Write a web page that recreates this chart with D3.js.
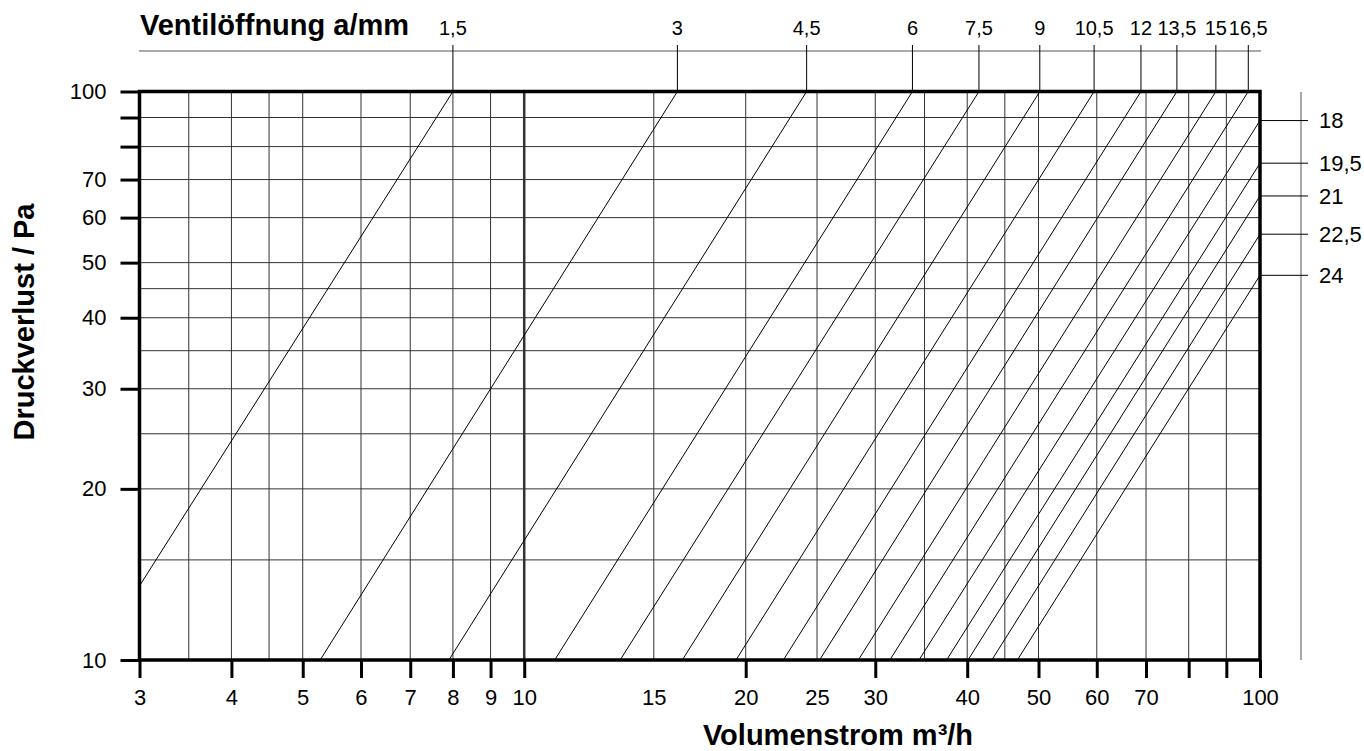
<!DOCTYPE html>
<html lang="de">
<head>
  <meta charset="UTF-8">
  <title>Druckverlust / Volumenstrom</title>
  <script src="https://d3js.org/d3.v7.min.js"></script>
  <style>
    body {
      margin: 0;
      padding: 0;
      background-color: #fff;
    }
    svg text {
      font-family: "Liberation Sans", Arial, sans-serif;
      fill: #000;
    }
  </style>
</head>
<body>
  <svg id="chart" width="1364" height="751"></svg>

  <script>
    // Gitter und Achsenbeschriftung
    const xGrid = [3.5, 4, 4.5, 5, 6, 7, 8, 9, 10, 15, 20, 25, 30, 35, 40, 45, 50, 60, 70, 80, 90];
    const yGrid = [15, 20, 25, 30, 35, 40, 45, 50, 60, 70, 80, 90];
    const xTickMarks = [3, 4, 5, 6, 7, 8, 9, 10, 20, 30, 40, 50, 60, 70, 80, 90, 100];
    const xTickLabels = [3, 4, 5, 6, 7, 8, 9, 10, 15, 20, 25, 30, 40, 50, 60, 70, 100];
    const yTickMarks = [10, 20, 30, 40, 50, 60, 70, 80, 90, 100];
    const yTickLabels = [10, 20, 30, 40, 50, 60, 70, 100];

    // Kennlinien je Ventilöffnung (Anfangs- und Endpunkt, m³/h und Pa)
    const openings = ["1,5", "3", "4,5", "6", "7,5", "9", "10,5", "12", "13,5", "15", "16,5", "18", "19,5", "21", "22,5", "24"];
    const flowStart = [3, 5.28, 7.9, 11.0, 13.5, 16.4, 19.4, 22.5, 25.2, 28.45, 31.4, 34.4, 37.5, 40.1, 43.2, 46.8];
    const dpStart = [13.5, 10, 10, 10, 10, 10, 10, 10, 10, 10, 10, 10, 10, 10, 10, 10];
    const flowEnd = [8.0, 16.15, 24.2, 33.7, 41.5, 50.2, 59.5, 68.9, 77.1, 87.1, 96.4, 100, 100, 100, 100, 100];
    const dpEnd = [100, 100, 100, 100, 100, 100, 100, 100, 100, 100, 100, 88.9, 74.8, 65.5, 56.1, 47.5];

    const svg = d3.select("#chart");

    const x = d3.scaleLog().domain([3, 100]).range([139.5, 1260]);
    const y = d3.scaleLog().domain([10, 100]).range([660, 91.5]);

    // Gitterlinien
    svg.append("g")
      .selectAll("line")
      .data(xGrid)
      .enter().append("line")
      .attr("x1", d => x(d)).attr("x2", d => x(d))
      .attr("y1", y(10)).attr("y2", y(100))
      .attr("stroke", "#333")
      .attr("stroke-width", d => d === 10 ? 2.5 : 1);

    svg.append("g")
      .selectAll("line")
      .data(yGrid)
      .enter().append("line")
      .attr("x1", x(3)).attr("x2", x(100))
      .attr("y1", d => y(d)).attr("y2", d => y(d))
      .attr("stroke", "#333")
      .attr("stroke-width", 1);

    // Kennlinien
    const line = d3.line()
      .x(d => x(d[0]))
      .y(d => y(d[1]));

    svg.append("g")
      .selectAll("path")
      .data(openings.map((o, i) => [[flowStart[i], dpStart[i]], [flowEnd[i], dpEnd[i]]]))
      .enter().append("path")
      .attr("d", line)
      .attr("fill", "none")
      .attr("stroke", "#000")
      .attr("stroke-width", 1);

    // Rahmen
    svg.append("rect")
      .attr("x", x(3)).attr("y", y(100))
      .attr("width", x(100) - x(3))
      .attr("height", y(10) - y(100))
      .attr("fill", "none")
      .attr("stroke", "#000")
      .attr("stroke-width", 3.5);

    // X-Achse: Striche und Zahlen
    svg.append("g")
      .attr("transform", `translate(0,${y(10)})`)
      .call(d3.axisBottom(x).tickValues(xTickMarks).tickSize(18).tickFormat(""))
      .call(g => g.select(".domain").remove())
      .call(g => g.selectAll(".tick line").attr("stroke-width", 3));

    svg.append("g")
      .attr("transform", `translate(0,${y(10)})`)
      .call(d3.axisBottom(x).tickValues(xTickLabels).tickSize(0).tickPadding(29).tickFormat(d => d))
      .call(g => g.select(".domain").remove())
      .attr("font-family", null)
      .attr("font-size", 22);

    // Y-Achse: Striche und Zahlen
    svg.append("g")
      .attr("transform", `translate(${x(3)},0)`)
      .call(d3.axisLeft(y).tickValues(yTickMarks).tickSize(19).tickFormat(""))
      .call(g => g.select(".domain").remove())
      .call(g => g.selectAll(".tick line").attr("stroke-width", 3));

    svg.append("g")
      .attr("transform", `translate(${x(3)},0)`)
      .call(d3.axisLeft(y).tickValues(yTickLabels).tickSize(0).tickPadding(33).tickFormat(d => d))
      .call(g => g.select(".domain").remove())
      .attr("font-family", null)
      .attr("font-size", 22);

    // obere Skala: Ventilöffnung
    svg.append("line")
      .attr("x1", 139).attr("x2", 1261)
      .attr("y1", 51).attr("y2", 51)
      .attr("stroke", "#555");

    const topIdx = openings.map((o, i) => i).filter(i => dpEnd[i] === 100);
    const rightIdx = openings.map((o, i) => i).filter(i => flowEnd[i] === 100);

    svg.append("g")
      .selectAll("line")
      .data(topIdx)
      .enter().append("line")
      .attr("x1", i => x(flowEnd[i])).attr("x2", i => x(flowEnd[i]))
      .attr("y1", y(100)).attr("y2", 45)
      .attr("stroke", "#000");

    svg.append("g")
      .selectAll("text")
      .data(topIdx)
      .enter().append("text")
      .attr("x", i => x(flowEnd[i]))
      .attr("y", 35)
      .attr("text-anchor", "middle")
      .attr("font-size", 20)
      .text(i => openings[i]);

    // rechte Skala
    svg.append("line")
      .attr("x1", 1301).attr("x2", 1301)
      .attr("y1", 92).attr("y2", 660)
      .attr("stroke", "#555");

    svg.append("g")
      .selectAll("line")
      .data(rightIdx)
      .enter().append("line")
      .attr("x1", x(100)).attr("x2", 1308)
      .attr("y1", i => y(dpEnd[i])).attr("y2", i => y(dpEnd[i]))
      .attr("stroke", "#000");

    svg.append("g")
      .selectAll("text")
      .data(rightIdx)
      .enter().append("text")
      .attr("x", 1319)
      .attr("y", i => y(dpEnd[i]))
      .attr("dy", "0.35em")
      .attr("font-size", 22)
      .text(i => openings[i]);

    // Achsentitel
    svg.append("text")
      .attr("x", 140)
      .attr("y", 35)
      .attr("font-size", 29)
      .attr("font-weight", "bold")
      .text("Ventilöffnung a/mm");

    svg.append("text")
      .attr("x", 838)
      .attr("y", 745)
      .attr("text-anchor", "middle")
      .attr("font-size", 29)
      .attr("font-weight", "bold")
      .text("Volumenstrom m³/h");

    svg.append("text")
      .attr("transform", "translate(34,322) rotate(-90)")
      .attr("text-anchor", "middle")
      .attr("font-size", 29)
      .attr("font-weight", "bold")
      .text("Druckverlust / Pa");
  </script>
</body>
</html>
